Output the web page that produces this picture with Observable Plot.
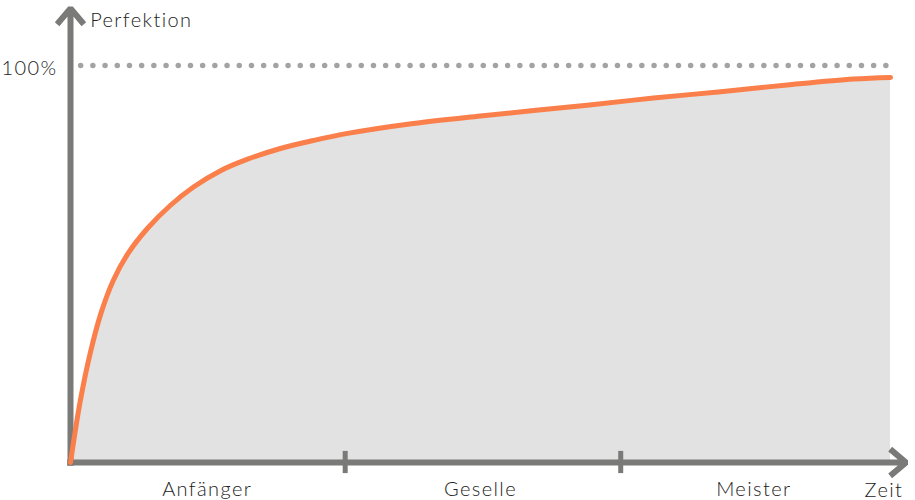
<!DOCTYPE html>
<html>
<head>
<meta charset="utf-8">
<script src="https://cdn.jsdelivr.net/npm/d3@7"></script>
<script src="https://cdn.jsdelivr.net/npm/@observablehq/plot@0.6"></script>
<style>
  html, body { margin: 0; padding: 0; background: #fff; }
  #chart svg text { letter-spacing: 1.4px; }
</style>
</head>
<body>
<div id="chart"></div>
<script>
// Learning curve: time (0–100) vs. perfection (0–100 %)
const timeVals = [0, 1.2, 2.4, 3.7, 5.2, 7.0, 9.4, 12.2, 15.0, 18.3, 21.6, 25.6, 29.6, 33.8, 41.8, 50.0, 63.0, 71.1, 79.3, 87.4, 95.5, 100];
const perfVals = [0, 15.6, 27.5, 37.5, 45.8, 52.6, 59.0, 64.8, 69.4, 73.5, 76.4, 79.1, 81.1, 82.9, 85.4, 87.3, 90.0, 91.8, 93.4, 95.1, 96.6, 97.0];

const stages = ["Anfänger", "Geselle", "Meister"];
const stageCenters = [16.67, 50, 83.33];
const stageBounds = [33.5, 67.1];

const yAxisLabel = "Perfektion";
const xAxisLabel = "Zeit";
const maxLabel = "100%";
const maxValue = 100;

const curve = timeVals.map((t, i) => ({t, p: perfVals[i]}));
const stageData = stages.map((s, i) => ({s, x: stageCenters[i]}));

const axisColor = "#7a7a79";
const font = "Lato, 'Open Sans', sans-serif";

const chart = Plot.plot({
  width: 915,
  height: 500,
  marginLeft: 70,
  marginRight: 25,
  marginTop: 65,
  marginBottom: 38,
  x: {domain: [0, 100], axis: null},
  y: {domain: [0, 100], axis: null},
  style: {fontFamily: font, fontSize: "20px", color: "#222", background: "#fff", overflow: "visible"},
  marks: [
    Plot.areaY(curve, {x: "t", y: "p", fill: "#e1e2e1", curve: "catmull-rom"}),
    Plot.ruleY([maxValue], {x1: 1.3, x2: 100, stroke: "#a3a3a3", strokeWidth: 5.5, strokeDasharray: "0,12.2", strokeLinecap: "round"}),
    Plot.arrow([{x1: -0.4, y1: 0, x2: 101.9, y2: 0}], {x1: "x1", y1: "y1", x2: "x2", y2: "y2", stroke: axisColor, strokeWidth: 6, headLength: 5.2, headAngle: 80, strokeLinecap: "butt"}),
    Plot.arrow([{x1: 0, y1: -0.8, x2: 0, y2: 114.4}], {x1: "x1", y1: "y1", x2: "x2", y2: "y2", stroke: axisColor, strokeWidth: 6, headLength: 5.2, headAngle: 80, strokeLinecap: "butt"}),
    Plot.ruleX(stageBounds, {y1: -2.8, y2: 2.8, stroke: axisColor, strokeWidth: 5}),
    Plot.line(curve, {x: "t", y: "p", stroke: "#fa7f4a", strokeWidth: 5, curve: "catmull-rom", strokeLinecap: "round"}),
    Plot.text(stageData, {x: "x", y: 0, text: "s", dy: 27, fill: "#222", fontSize: 20, fontWeight: 300}),
    Plot.text([xAxisLabel], {x: 99.2, y: 0, text: d => d, dy: 28, fill: "#222", fontSize: 20, fontWeight: 300}),
    Plot.text([yAxisLabel], {x: 2.4, y: 111.2, text: d => d, textAnchor: "start", fill: "#222", fontSize: 20, fontWeight: 300}),
    Plot.text([maxLabel], {x: -1.6, y: 99.3, text: d => d, textAnchor: "end", fill: "#222", fontSize: 20, fontWeight: 300})
  ]
});
document.getElementById("chart").appendChild(chart);
</script>
</body>
</html>
